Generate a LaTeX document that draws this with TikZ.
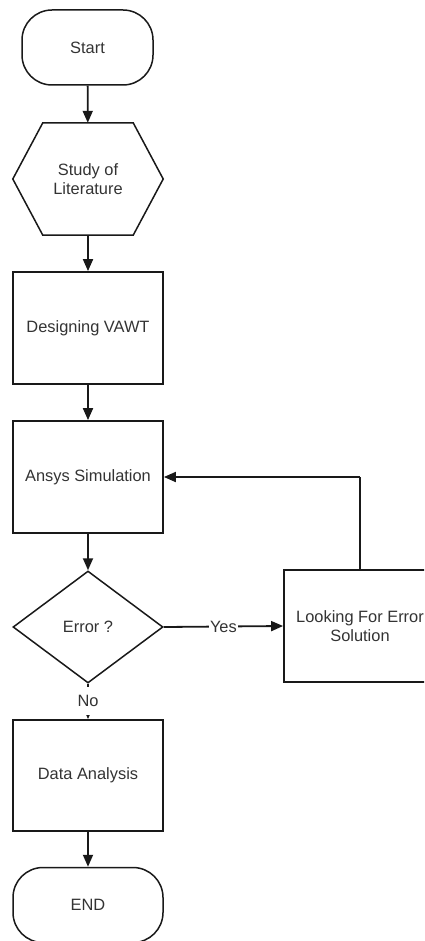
\documentclass[tikz,border=0pt]{standalone}
\usepackage{fontspec}
\setmainfont{Liberation Sans}
\usetikzlibrary{shapes.geometric,arrows.meta}
\begin{document}
\begin{tikzpicture}[x=1pt,y=-1pt,
  every node/.style={font=\fontsize{16.4}{19.5}\selectfont, text=black!80, align=center, inner sep=0pt},
  box/.style={draw=black!90, line width=1.8pt, minimum width=150pt, minimum height=112pt},
  term/.style={draw=black!90, line width=1.5pt, rounded corners=30pt, minimum width=150pt, minimum height=75pt},
  dec/.style={draw=black!90, line width=1.5pt, diamond, minimum width=150pt, minimum height=112pt},
  conn/.style={line width=1.8pt, draw=black!90, -{Triangle[length=12pt,width=10pt]}},
  lbl/.style={fill=white, inner sep=1pt}
]
\useasboundingbox (0,0) rectangle (424,941);
\clip (0,0) rectangle (424,941);

\node[term, minimum width=131pt] (start) at (87.5,47.5) {Start};
\node[minimum width=150pt, minimum height=112pt] (lit) at (88,179) {Study of\\Literature};
\draw[line width=1.5pt, draw=black!90]
  (lit.west) -- ([xshift=30pt]lit.north west) -- ([xshift=-30pt]lit.north east)
  -- (lit.east) -- ([xshift=-30pt]lit.south east) -- ([xshift=30pt]lit.south west) -- cycle;
\node[box] (des) at (88,328) {Designing VAWT};
\node[box] (ans) at (88,477) {Ansys Simulation};
\node[dec] (err) at (88,627) {Error ?};
\node[box, minimum width=152pt] (look) at (360,626) {Looking For Error\\Solution};
\node[box, minimum height=111pt] (data) at (88,775.5) {Data Analysis};
\node[term] (end) at (88,905) {END};
\coordinate (bend) at (360,477);

\draw[conn] (start) -- (lit);
\draw[conn] (lit) -- (des);
\draw[conn] (des) -- (ans);
\draw[conn] (ans) -- (err);
\draw[conn] (err.east) -- node[lbl] (yes) {Yes} (look.west);
\draw[line width=1.8pt, draw=black!90] (look.north) -- (bend);
\draw[conn] (bend) -- (ans.east);
\draw[conn] (err.south) -- (data.north);
\node[lbl, minimum height=28pt, minimum width=24pt] (no) at (88,701) {No};
\draw[conn] (data) -- (end);
\end{tikzpicture}
\end{document}
